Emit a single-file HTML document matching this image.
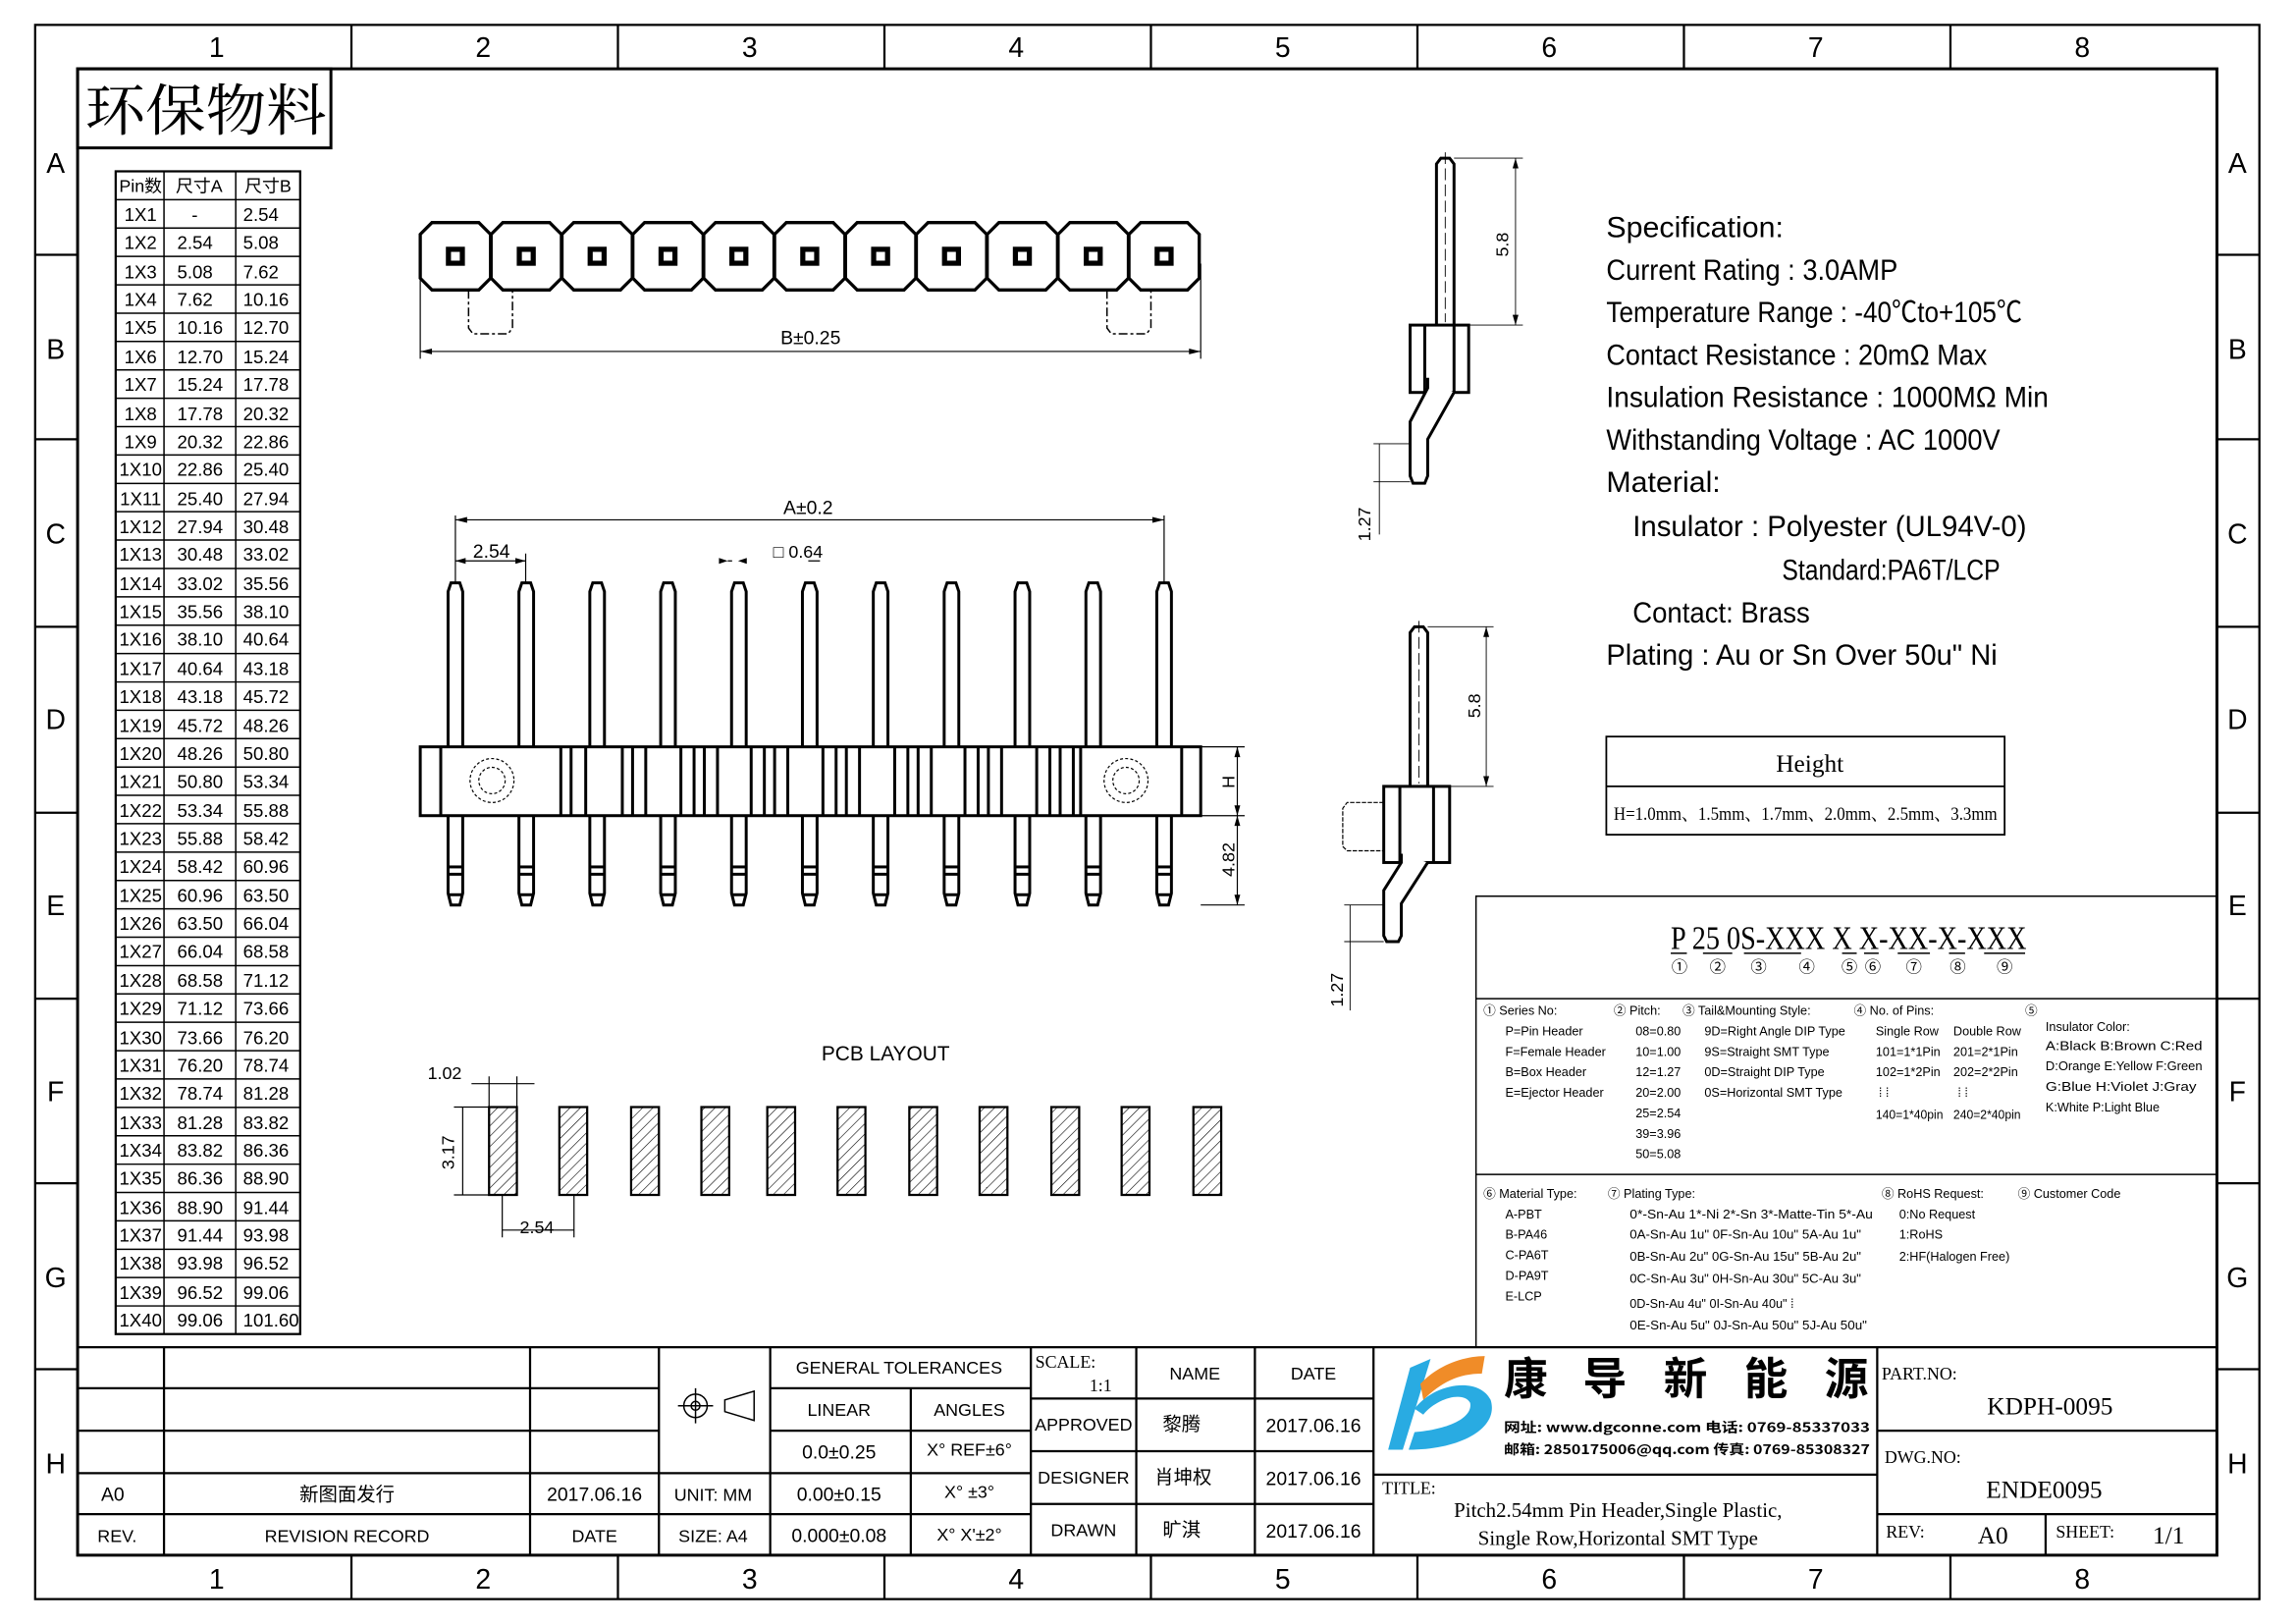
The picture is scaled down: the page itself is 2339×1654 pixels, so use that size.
<!DOCTYPE html>
<html><head><meta charset="utf-8"><style>
html,body{margin:0;padding:0;background:#fff}
svg{display:block}
text{font-family:"Liberation Sans Narrow","Liberation Sans","Noto Sans CJK SC",sans-serif;fill:#000}
.cj{font-family:"Liberation Serif","Noto Serif CJK SC","Noto Sans CJK SC",serif}
</style></head><body>
<svg width="2339" height="1654" viewBox="0 0 1568 1109" preserveAspectRatio="none" xmlns="http://www.w3.org/2000/svg">
<defs>
<pattern id="h" width="5" height="5" patternUnits="userSpaceOnUse" patternTransform="rotate(45)"><line x1="0" y1="0" x2="0" y2="5" stroke="#000" stroke-width="0.8"/></pattern>
<g id="oct"><path d="M-16,-23 H16 L24,-15 V15 L16,23 H-16 L-24,15 V-15 Z" fill="#fff" stroke="#000" stroke-width="2.2"/><rect x="-6.5" y="-6.5" width="13" height="13" fill="#000"/><rect x="-3" y="-3" width="6" height="6" fill="#fff"/></g>
<g id="fp" fill="#fff" stroke="#000" stroke-width="2">
<path d="M-5,510 V404 L-3,398 H3 L5,404 V510"/>
<path d="M-5,557 V610 L-3,618 H3 L5,610 V557"/>
<line x1="-5" y1="592" x2="5" y2="592"/><line x1="-5" y1="597" x2="5" y2="597"/><line x1="-5" y1="611" x2="5" y2="611"/>
</g>
</defs>
<rect x="0" y="0" width="1568" height="1109" fill="#fff"/>
<!-- frame -->
<g fill="none" stroke="#000" stroke-width="1.5">
<rect x="24" y="17" width="1519" height="1075"/>
<rect x="53" y="47" width="1461" height="1015" stroke-width="2"/>
<path d="M240,17V47M422,17V47M604,17V47M786,17V47M968,17V47M1150,17V47M1332,17V47M240,1062V1092M422,1062V1092M604,1062V1092M786,1062V1092M968,1062V1092M1150,1062V1092M1332,1062V1092"/>
<path d="M24,174H53M24,300H53M24,428H53M24,555H53M24,682H53M24,808H53M24,935H53M1514,174H1543M1514,300H1543M1514,428H1543M1514,555H1543M1514,682H1543M1514,808H1543M1514,935H1543"/>
</g>
<g font-size="19" text-anchor="middle">
<text x="148" y="39">1</text><text x="330" y="39">2</text><text x="512" y="39">3</text><text x="694" y="39">4</text><text x="876" y="39">5</text><text x="1058" y="39">6</text><text x="1240" y="39">7</text><text x="1422" y="39">8</text>
<text x="148" y="1085">1</text><text x="330" y="1085">2</text><text x="512" y="1085">3</text><text x="694" y="1085">4</text><text x="876" y="1085">5</text><text x="1058" y="1085">6</text><text x="1240" y="1085">7</text><text x="1422" y="1085">8</text>
<text x="38" y="118">A</text><text x="38" y="245">B</text><text x="38" y="371">C</text><text x="38" y="498">D</text><text x="38" y="625">E</text><text x="38" y="752">F</text><text x="38" y="879">G</text><text x="38" y="1006">H</text>
<text x="1528" y="118">A</text><text x="1528" y="245">B</text><text x="1528" y="371">C</text><text x="1528" y="498">D</text><text x="1528" y="625">E</text><text x="1528" y="752">F</text><text x="1528" y="879">G</text><text x="1528" y="1006">H</text>
</g>
<!-- 环保物料 -->
<rect x="53" y="47" width="173" height="54" fill="none" stroke="#000" stroke-width="2"/>
<text x="58" y="89" font-size="38" class="cj" textLength="165" lengthAdjust="spacingAndGlyphs">环保物料</text>
<!-- pin table -->
<g fill="none" stroke="#000" stroke-width="1">
<rect x="79" y="117" width="126" height="794" stroke-width="1.5"/>
<line x1="112" y1="117" x2="112" y2="911"/><line x1="161" y1="117" x2="161" y2="911"/>
<path d="M79,136.4H205M79,155.7H205M79,175.1H205M79,194.5H205M79,213.9H205M79,233.2H205M79,252.6H205M79,272H205M79,291.3H205M79,310.7H205M79,330.1H205M79,349.4H205M79,368.8H205M79,388.2H205M79,407.6H205M79,426.9H205M79,446.3H205M79,465.7H205M79,485H205M79,504.4H205M79,523.8H205M79,543.1H205M79,562.5H205M79,581.9H205M79,601.3H205M79,620.6H205M79,640H205M79,659.4H205M79,678.7H205M79,698.1H205M79,717.5H205M79,736.8H205M79,756.2H205M79,775.6H205M79,795H205M79,814.3H205M79,833.7H205M79,853.1H205M79,872.4H205M79,891.8H205"/>
</g>
<g font-size="12" text-anchor="middle" class="cj">
<text x="96" y="131">Pin数</text><text x="136" y="131">尺寸A</text><text x="183" y="131">尺寸B</text>
</g>
<g font-size="12.5" class="cj">
<g text-anchor="middle">
<text x="96" y="151">1X1</text><text x="96" y="170">1X2</text><text x="96" y="190">1X3</text><text x="96" y="209">1X4</text><text x="96" y="228">1X5</text><text x="96" y="248">1X6</text><text x="96" y="267">1X7</text><text x="96" y="287">1X8</text><text x="96" y="306">1X9</text><text x="96" y="325">1X10</text><text x="96" y="345">1X11</text><text x="96" y="364">1X12</text><text x="96" y="383">1X13</text><text x="96" y="403">1X14</text><text x="96" y="422">1X15</text><text x="96" y="441">1X16</text><text x="96" y="461">1X17</text><text x="96" y="480">1X18</text><text x="96" y="500">1X19</text><text x="96" y="519">1X20</text><text x="96" y="538">1X21</text><text x="96" y="558">1X22</text><text x="96" y="577">1X23</text><text x="96" y="596">1X24</text><text x="96" y="616">1X25</text><text x="96" y="635">1X26</text><text x="96" y="654">1X27</text><text x="96" y="674">1X28</text><text x="96" y="693">1X29</text><text x="96" y="713">1X30</text><text x="96" y="732">1X31</text><text x="96" y="751">1X32</text><text x="96" y="771">1X33</text><text x="96" y="790">1X34</text><text x="96" y="809">1X35</text><text x="96" y="829">1X36</text><text x="96" y="848">1X37</text><text x="96" y="867">1X38</text><text x="96" y="887">1X39</text><text x="96" y="906">1X40</text>
<text x="133" y="151">-</text>
</g>
<g>
<text x="121" y="170">2.54</text><text x="121" y="190">5.08</text><text x="121" y="209">7.62</text><text x="121" y="228">10.16</text><text x="121" y="248">12.70</text><text x="121" y="267">15.24</text><text x="121" y="287">17.78</text><text x="121" y="306">20.32</text><text x="121" y="325">22.86</text><text x="121" y="345">25.40</text><text x="121" y="364">27.94</text><text x="121" y="383">30.48</text><text x="121" y="403">33.02</text><text x="121" y="422">35.56</text><text x="121" y="441">38.10</text><text x="121" y="461">40.64</text><text x="121" y="480">43.18</text><text x="121" y="500">45.72</text><text x="121" y="519">48.26</text><text x="121" y="538">50.80</text><text x="121" y="558">53.34</text><text x="121" y="577">55.88</text><text x="121" y="596">58.42</text><text x="121" y="616">60.96</text><text x="121" y="635">63.50</text><text x="121" y="654">66.04</text><text x="121" y="674">68.58</text><text x="121" y="693">71.12</text><text x="121" y="713">73.66</text><text x="121" y="732">76.20</text><text x="121" y="751">78.74</text><text x="121" y="771">81.28</text><text x="121" y="790">83.82</text><text x="121" y="809">86.36</text><text x="121" y="829">88.90</text><text x="121" y="848">91.44</text><text x="121" y="867">93.98</text><text x="121" y="887">96.52</text><text x="121" y="906">99.06</text>
<text x="166" y="151">2.54</text><text x="166" y="170">5.08</text><text x="166" y="190">7.62</text><text x="166" y="209">10.16</text><text x="166" y="228">12.70</text><text x="166" y="248">15.24</text><text x="166" y="267">17.78</text><text x="166" y="287">20.32</text><text x="166" y="306">22.86</text><text x="166" y="325">25.40</text><text x="166" y="345">27.94</text><text x="166" y="364">30.48</text><text x="166" y="383">33.02</text><text x="166" y="403">35.56</text><text x="166" y="422">38.10</text><text x="166" y="441">40.64</text><text x="166" y="461">43.18</text><text x="166" y="480">45.72</text><text x="166" y="500">48.26</text><text x="166" y="519">50.80</text><text x="166" y="538">53.34</text><text x="166" y="558">55.88</text><text x="166" y="577">58.42</text><text x="166" y="596">60.96</text><text x="166" y="616">63.50</text><text x="166" y="635">66.04</text><text x="166" y="654">68.58</text><text x="166" y="674">71.12</text><text x="166" y="693">73.66</text><text x="166" y="713">76.20</text><text x="166" y="732">78.74</text><text x="166" y="751">81.28</text><text x="166" y="771">83.82</text><text x="166" y="790">86.36</text><text x="166" y="809">88.90</text><text x="166" y="829">91.44</text><text x="166" y="848">93.98</text><text x="166" y="867">96.52</text><text x="166" y="887">99.06</text><text x="166" y="906">101.60</text>
</g></g>
<!-- top view -->
<g fill="none" stroke="#000" stroke-width="1" stroke-dasharray="6,2,2,2">
<path d="M320,198V224L323,228H347L350,224V198"/><path d="M756,198V224L759,228H783L786,224V198"/>
</g>
<use href="#oct" x="311" y="175"/><use href="#oct" x="359.4" y="175"/><use href="#oct" x="407.8" y="175"/><use href="#oct" x="456.2" y="175"/><use href="#oct" x="504.6" y="175"/><use href="#oct" x="553" y="175"/><use href="#oct" x="601.4" y="175"/><use href="#oct" x="649.8" y="175"/><use href="#oct" x="698.2" y="175"/><use href="#oct" x="746.6" y="175"/><use href="#oct" x="795" y="175"/>
<g stroke="#000" stroke-width="0.8" fill="none"><path d="M287,180V245M820,180V245M287,240H820"/></g>
<path d="M287,240l8,-2v4z M820,240l-8,-2v4z" fill="#000"/>
<text x="533" y="235" font-size="13">B±0.25</text>
<!-- front view -->
<use href="#fp" x="311"/><use href="#fp" x="359.4"/><use href="#fp" x="407.8"/><use href="#fp" x="456.2"/><use href="#fp" x="504.6"/><use href="#fp" x="553"/><use href="#fp" x="601.4"/><use href="#fp" x="649.8"/><use href="#fp" x="698.2"/><use href="#fp" x="746.6"/><use href="#fp" x="795"/>
<rect x="287" y="510" width="533" height="47" fill="#fff" stroke="#000" stroke-width="2"/>
<g stroke="#000" stroke-width="2"><path d="M301,510V557M425,510V557M432,510V557M474,510V557M481,510V557M522,510V557M529,510V557M571,510V557M578,510V557M620,510V557M627,510V557M668,510V557M675,510V557M717,510V557M724,510V557M807,510V557M383,510V557M390,510V557M400,510V557M441,510V557M465,510V557M490,510V557M513,510V557M538,510V557M562,510V557M587,510V557M611,510V557M636,510V557M659,510V557M684,510V557M708,510V557M733,510V557M738,510V557"/></g>
<g fill="none" stroke="#000" stroke-width="0.8" stroke-dasharray="2,1.5"><circle cx="336" cy="533" r="15"/><circle cx="336" cy="533" r="9"/><circle cx="769" cy="533" r="15"/><circle cx="769" cy="533" r="9"/></g>
<g stroke="#000" stroke-width="0.8" fill="none">
<path d="M311,352V398M795,352V398M311,355H795M311,378V398M359,378V398M311,383H359M497,383H500M552,383H560"/>
<path d="M820,510H850M820,557H850M820,618H850M845,510V618"/>
</g>
<path d="M311,355l8,-2v4zM795,355l-8,-2v4zM311,383l7,-2v4zM359,383l-7,-2v4zM845,510l-2,7h4zM845,557l-2,-7h4zM845,557l-2,7h4zM845,618l-2,-7h4zM497,383l-6,-2v4zM504,383l6,-2v4z" fill="#000"/>
<text x="535" y="351" font-size="13">A±0.2</text>
<text x="323" y="381" font-size="13">2.54</text>
<text x="528" y="381" font-size="12">□ 0.64</text>
<text x="843" y="534" font-size="12" transform="rotate(-90 843 534)" text-anchor="middle">H</text>
<text x="843" y="587" font-size="12" transform="rotate(-90 843 587)" text-anchor="middle">4.82</text>
<!-- PCB layout -->
<text x="561" y="724" font-size="14">PCB LAYOUT</text>
<g fill="url(#h)" stroke="#000" stroke-width="1.5">
<rect x="334" y="756" width="19" height="60"/><rect x="382" y="756" width="19" height="60"/><rect x="431" y="756" width="19" height="60"/><rect x="479" y="756" width="19" height="60"/><rect x="524" y="756" width="19" height="60"/><rect x="572" y="756" width="19" height="60"/><rect x="621" y="756" width="19" height="60"/><rect x="669" y="756" width="19" height="60"/><rect x="718" y="756" width="19" height="60"/><rect x="766" y="756" width="19" height="60"/><rect x="815" y="756" width="19" height="60"/>
</g>
<g stroke="#000" stroke-width="0.8" fill="none"><path d="M334,735V756M353,735V756M322,740H365M310,756H334M310,816H334M316,756V816M343,816V845M392,816V845M343,840H392"/></g>
<text x="292" y="737" font-size="12">1.02</text>
<text x="310" y="787" font-size="12" transform="rotate(-90 310 787)" text-anchor="middle">3.17</text>
<text x="355" y="842" font-size="12">2.54</text>
<!-- side view 1 -->
<g fill="#fff" stroke="#000" stroke-width="2">
<path d="M981,222V112L984,108H990L993,112V222"/>
<rect x="963" y="222" width="40" height="46"/>
<line x1="973" y1="222" x2="973" y2="268"/><line x1="993" y1="222" x2="993" y2="268"/>
<path d="M975,258V265L963,288V325L965,330H973L975,325V300L993,268"/>
</g>
<line x1="987" y1="104" x2="987" y2="220" stroke="#000" stroke-width="0.6" stroke-dasharray="8,3"/>
<g stroke="#000" stroke-width="0.6" fill="none"><path d="M993,108H1040M1003,222H1040M1035,108V222M963,303H938M963,329H938M942,303V365"/></g>
<path d="M1035,108l-2,7h4zM1035,222l-2,-7h4z" fill="#000"/>
<text x="1030" y="167" font-size="12" transform="rotate(-90 1030 167)" text-anchor="middle">5.8</text>
<text x="936" y="358" font-size="12" transform="rotate(-90 936 358)" text-anchor="middle">1.27</text>
<!-- side view 2 -->
<g fill="#fff" stroke="#000" stroke-width="2">
<path d="M963,537V432L966,428H972L975,432V537"/>
<rect x="945" y="537" width="45" height="52"/>
<line x1="956" y1="537" x2="956" y2="589"/><line x1="979" y1="537" x2="979" y2="589"/>
<path d="M957,583V589L945,608V639L947,643H955L957,639V617L975,589"/>
</g>
<path d="M945,548H920L917,552V578L920,581H945" fill="none" stroke="#000" stroke-width="0.8" stroke-dasharray="3,1"/>
<line x1="969" y1="424" x2="969" y2="535" stroke="#000" stroke-width="0.6" stroke-dasharray="8,3"/>
<g stroke="#000" stroke-width="0.6" fill="none"><path d="M975,428H1020M990,537H1020M1015,428V537M945,618H918M945,643H918M922,618V690"/></g>
<path d="M1015,428l-2,7h4zM1015,537l-2,-7h4z" fill="#000"/>
<text x="1011" y="482" font-size="12" transform="rotate(-90 1011 482)" text-anchor="middle">5.8</text>
<text x="917" y="676" font-size="12" transform="rotate(-90 917 676)" text-anchor="middle">1.27</text>
<!-- spec -->
<g font-size="20" class="cj" lengthAdjust="spacingAndGlyphs">
<text x="1097" y="162" textLength="121" lengthAdjust="spacingAndGlyphs">Specification:</text>
<text x="1097" y="191" textLength="199" lengthAdjust="spacingAndGlyphs">Current Rating : 3.0AMP</text>
<text x="1097" y="220" textLength="284" lengthAdjust="spacingAndGlyphs">Temperature Range : -40℃to+105℃</text>
<text x="1097" y="249" textLength="260" lengthAdjust="spacingAndGlyphs">Contact Resistance : 20mΩ Max</text>
<text x="1097" y="278" textLength="302" lengthAdjust="spacingAndGlyphs">Insulation Resistance : 1000MΩ Min</text>
<text x="1097" y="307" textLength="269" lengthAdjust="spacingAndGlyphs">Withstanding Voltage : AC 1000V</text>
<text x="1097" y="336" textLength="78" lengthAdjust="spacingAndGlyphs">Material:</text>
<text x="1115" y="366" textLength="269" lengthAdjust="spacingAndGlyphs">Insulator : Polyester (UL94V-0)</text>
<text x="1217" y="396" textLength="149" lengthAdjust="spacingAndGlyphs">Standard:PA6T/LCP</text>
<text x="1115" y="425" textLength="121" lengthAdjust="spacingAndGlyphs">Contact: Brass</text>
<text x="1097" y="454" textLength="267" lengthAdjust="spacingAndGlyphs">Plating : Au or Sn Over 50u" Ni</text>
</g>
<rect x="1097" y="503" width="272" height="67" fill="none" stroke="#000" stroke-width="1.2"/>
<line x1="1097" y1="537" x2="1369" y2="537" stroke="#000" stroke-width="1.2"/>
<text x="1236" y="527" font-size="17" text-anchor="middle" class="cj">Height</text>
<text x="1102" y="560" font-size="13" class="cj" textLength="262" lengthAdjust="spacingAndGlyphs">H=1.0mm、1.5mm、1.7mm、2.0mm、2.5mm、3.3mm</text>
<!-- code box -->
<g fill="none" stroke="#000" stroke-width="1"><path d="M1008,920V612H1514M1008,682H1514M1008,802H1514"/></g>
<text x="1141" y="648" font-size="23" class="cj" textLength="243" lengthAdjust="spacingAndGlyphs">P 25 0S-XXX X X-XX-X-XXX</text>
<g stroke="#000" stroke-width="1"><path d="M1141,651H1152M1163,651H1183M1191,651H1230M1258,651H1268M1273,651H1283M1296,651H1318M1331,651H1342M1355,651H1383"/></g>
<g font-size="11" text-anchor="middle"><text x="1147" y="664">①</text><text x="1173" y="664">②</text><text x="1201" y="664">③</text><text x="1234" y="664">④</text><text x="1263" y="664">⑤</text><text x="1279" y="664">⑥</text><text x="1307" y="664">⑦</text><text x="1337" y="664">⑧</text><text x="1369" y="664">⑨</text></g>
<g font-size="8.5" class="cj">
<text x="1013" y="693">① Series No:</text><text x="1028" y="707">P=Pin Header</text><text x="1028" y="721">F=Female Header</text><text x="1028" y="735">B=Box Header</text><text x="1028" y="749">E=Ejector Header</text>
<text x="1102" y="693">② Pitch:</text><text x="1117" y="707">08=0.80</text><text x="1117" y="721">10=1.00</text><text x="1117" y="735">12=1.27</text><text x="1117" y="749">20=2.00</text><text x="1117" y="763">25=2.54</text><text x="1117" y="777">39=3.96</text><text x="1117" y="791">50=5.08</text>
<text x="1149" y="693">③ Tail&amp;Mounting Style:</text><text x="1164" y="707">9D=Right Angle DIP Type</text><text x="1164" y="721">9S=Straight SMT Type</text><text x="1164" y="735">0D=Straight DIP Type</text><text x="1164" y="749">0S=Horizontal SMT Type</text>
<text x="1266" y="693">④ No. of Pins:</text><text x="1281" y="707">Single Row</text><text x="1334" y="707">Double Row</text><text x="1281" y="721">101=1*1Pin</text><text x="1334" y="721">201=2*1Pin</text><text x="1281" y="735">102=1*2Pin</text><text x="1334" y="735">202=2*2Pin</text><text x="1283" y="749">⁞ ⁞</text><text x="1337" y="749">⁞ ⁞</text><text x="1281" y="764" textLength="46" lengthAdjust="spacingAndGlyphs">140=1*40pin</text><text x="1334" y="764" textLength="46" lengthAdjust="spacingAndGlyphs">240=2*40pin</text>
<text x="1383" y="693">⑤</text><text x="1397" y="704">Insulator Color:</text><text x="1397" y="717" textLength="107" lengthAdjust="spacingAndGlyphs">A:Black  B:Brown  C:Red</text><text x="1397" y="731" textLength="107" lengthAdjust="spacingAndGlyphs">D:Orange E:Yellow F:Green</text><text x="1397" y="745" textLength="103" lengthAdjust="spacingAndGlyphs">G:Blue   H:Violet J:Gray</text><text x="1397" y="759">K:White  P:Light Blue</text>
<text x="1013" y="818">⑥ Material Type:</text><text x="1028" y="832">A-PBT</text><text x="1028" y="846">B-PA46</text><text x="1028" y="860">C-PA6T</text><text x="1028" y="874">D-PA9T</text><text x="1028" y="888">E-LCP</text>
<text x="1098" y="818">⑦ Plating Type:</text><text x="1113" y="832" textLength="166" lengthAdjust="spacingAndGlyphs">0*-Sn-Au 1*-Ni 2*-Sn 3*-Matte-Tin 5*-Au</text><text x="1113" y="846" textLength="158" lengthAdjust="spacingAndGlyphs">0A-Sn-Au 1u" 0F-Sn-Au 10u"  5A-Au 1u"</text><text x="1113" y="861" textLength="158" lengthAdjust="spacingAndGlyphs">0B-Sn-Au 2u" 0G-Sn-Au 15u"  5B-Au 2u"</text><text x="1113" y="876" textLength="158" lengthAdjust="spacingAndGlyphs">0C-Sn-Au 3u" 0H-Sn-Au 30u"  5C-Au 3u"</text><text x="1113" y="893">0D-Sn-Au 4u" 0I-Sn-Au 40u"    ⁞</text><text x="1113" y="908" textLength="162" lengthAdjust="spacingAndGlyphs">0E-Sn-Au 5u" 0J-Sn-Au 50u"  5J-Au 50u"</text>
<text x="1285" y="818">⑧ RoHS Request:</text><text x="1297" y="832">0:No Request</text><text x="1297" y="846">1:RoHS</text><text x="1297" y="861">2:HF(Halogen Free)</text>
<text x="1378" y="818">⑨ Customer Code</text>
</g>
<!-- title block -->
<g fill="none" stroke="#000" stroke-width="1.5">
<path d="M53,920H1514M53,948H450M53,977H450M53,1006H526M53,1034H526M526,948H704M526,977H704M526,1006H704M526,1034H704M704,955H938M704,991H938M704,1027H938M938,1007H1282M1282,977H1514M1282,1034H1514"/>
<path d="M112,920V1062M362,920V1062M450,920V1062M526,920V1062M622,948V1062M704,920V1062M776,920V1062M857,920V1062M938,920V1062M1282,920V1062M1397,1034V1062"/>
</g>
<g font-size="13" class="cj" text-anchor="middle">
<text x="77" y="1025">A0</text><text x="237" y="1025">新图面发行</text><text x="406" y="1025">2017.06.16</text>
<text x="80" y="1053" font-size="12">REV.</text><text x="237" y="1053" font-size="12">REVISION RECORD</text><text x="406" y="1053" font-size="12">DATE</text>
<text x="487" y="1025" font-size="12">UNIT: MM</text><text x="487" y="1053" font-size="12">SIZE: A4</text>
<text x="614" y="938" font-size="12">GENERAL TOLERANCES</text>
<text x="573" y="967" font-size="12">LINEAR</text><text x="662" y="967" font-size="12">ANGLES</text>
<text x="573" y="996">0.0±0.25</text><text x="662" y="994" font-size="12">X° REF±6°</text>
<text x="573" y="1025">0.00±0.15</text><text x="662" y="1023" font-size="12">X° ±3°</text>
<text x="573" y="1053">0.000±0.08</text><text x="662" y="1052" font-size="12">X° X'±2°</text>
<text x="816" y="942" font-size="12">NAME</text><text x="897" y="942" font-size="12">DATE</text>
<text x="740" y="977" font-size="12">APPROVED</text><text x="807" y="977">黎腾</text><text x="897" y="978">2017.06.16</text>
<text x="740" y="1013" font-size="12">DESIGNER</text><text x="808" y="1013">肖坤权</text><text x="897" y="1014">2017.06.16</text>
<text x="740" y="1049" font-size="12">DRAWN</text><text x="807" y="1049">旷淇</text><text x="897" y="1050">2017.06.16</text>
</g>
<text x="707" y="934" font-size="12" class="cj">SCALE:</text><text x="744" y="950" font-size="12" class="cj">1:1</text>
<g fill="none" stroke="#000" stroke-width="1"><circle cx="475" cy="960" r="8"/><circle cx="475" cy="960" r="3"/><path d="M463,960H487M475,948V972M495,956L515,950V970L495,964Z"/></g>
<!-- logo -->
<path d="M963,934 L977,928 L958,990 L948,990 Z" fill="#29abe2"/>
<path d="M966,962 C980,944 1010,940 1018,956 C1024,975 998,990 962,990 L966,978 C990,976 1006,968 1004,958 C1000,950 982,954 972,966 Z" fill="#29abe2"/>
<path d="M970,945 C982,932 1000,926 1014,926 L1012,938 C996,938 984,944 972,956 Z" fill="#f08c28"/>
<g font-size="30" font-weight="bold" style="font-family:'Noto Sans CJK SC',sans-serif">
<text x="1027" y="952">康</text><text x="1081" y="952">导</text><text x="1136" y="952">新</text><text x="1191" y="952">能</text><text x="1246" y="952">源</text>
</g>
<text x="1027" y="978" font-size="9" font-weight="bold" style="font-family:'Noto Sans CJK SC',sans-serif" textLength="250" lengthAdjust="spacingAndGlyphs">网址: www.dgconne.com   电话: 0769-85337033</text>
<text x="1027" y="993" font-size="9" font-weight="bold" style="font-family:'Noto Sans CJK SC',sans-serif" textLength="250" lengthAdjust="spacingAndGlyphs">邮箱: 2850175006@qq.com 传真: 0769-85308327</text>
<text x="944" y="1020" font-size="12" class="cj">TITLE:</text>
<text x="1105" y="1036" font-size="14" class="cj" text-anchor="middle">Pitch2.54mm Pin Header,Single Plastic,</text>
<text x="1105" y="1055" font-size="14" class="cj" text-anchor="middle">Single Row,Horizontal SMT Type</text>
<text x="1285" y="942" font-size="12" class="cj">PART.NO:</text>
<text x="1400" y="966" font-size="17" class="cj" text-anchor="middle">KDPH-0095</text>
<text x="1287" y="999" font-size="12" class="cj">DWG.NO:</text>
<text x="1396" y="1023" font-size="17" class="cj" text-anchor="middle">ENDE0095</text>
<text x="1288" y="1050" font-size="12" class="cj">REV:</text><text x="1361" y="1054" font-size="17" class="cj" text-anchor="middle">A0</text>
<text x="1404" y="1050" font-size="12" class="cj">SHEET:</text><text x="1481" y="1054" font-size="17" class="cj" text-anchor="middle">1/1</text>
</svg>
</body></html>
